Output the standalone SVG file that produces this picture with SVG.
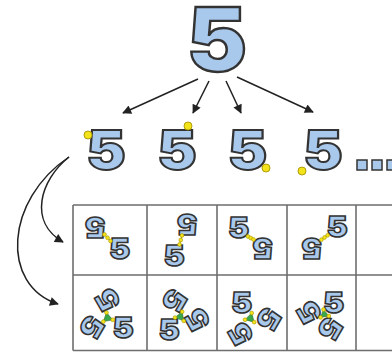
<svg xmlns="http://www.w3.org/2000/svg" xmlns:xlink="http://www.w3.org/1999/xlink" width="392" height="354" viewBox="0 0 392 354">
<style>
.g5{font-family:Inter,"DejaVu Sans",sans-serif;font-weight:900;fill:#a8c8ec;stroke:#333;text-anchor:middle}
.big{font-size:88px;stroke-width:2.4}
.mid{font-size:53px;stroke-width:2}
.sm{font-size:29px;stroke-width:1.5}
.yd{fill:#f2e31a;stroke:#a89400;stroke-width:0.6}
.ydb{fill:#f2e31a;stroke:#a89400;stroke-width:0.9}
.lk{stroke:#6a6a2a;stroke-width:0.8}
.tri{fill:#3aa84a;stroke:#2a6a2a;stroke-width:0.6}
.grid{fill:none;stroke:#6e6e6e;stroke-width:1.6}
.arr{fill:none;stroke:#222;stroke-width:1.5;marker-end:url(#ah)}
.sq{fill:#a8c8ec;stroke:#333;stroke-width:1.5}
</style>
<defs>
<marker id="ah" viewBox="0 0 10 10" refX="9" refY="5" markerWidth="7" markerHeight="6" markerUnits="strokeWidth" orient="auto">
<path d="M0,0 L10,5 L0,10 z" fill="#222"/>
</marker>
<text id="s5" class="g5 sm" x="0" y="10.5">5</text>
</defs>
<rect width="392" height="354" fill="#fff"/>

<g id="top5"><text class="g5 big" transform="translate(217,70.5) scale(1.03,1)">5</text></g>

<g id="v1"><text class="g5 mid" transform="translate(106,168.5) scale(1.12,1)">5</text><circle class="ydb" cx="88" cy="135" r="4"/></g>
<g id="v2"><text class="g5 mid" transform="translate(177,168.5) scale(1.12,1)">5</text><circle class="ydb" cx="188" cy="126" r="4"/></g>
<g id="v3"><text class="g5 mid" transform="translate(247.5,168.5) scale(1.12,1)">5</text><circle class="ydb" cx="266" cy="168" r="4"/></g>
<g id="v4"><text class="g5 mid" transform="translate(323,168.5) scale(1.12,1)">5</text><circle class="ydb" cx="302" cy="171" r="4"/></g>
<g id="more"><rect class="sq" x="357" y="160" width="10" height="10"/><rect class="sq" x="372" y="160" width="10" height="10"/><rect class="sq" x="387" y="160" width="10" height="10"/></g>

<g id="table">
<path class="grid" d="M73,205 H392 M73,275 H392 M73,350.5 H392 M73,205 V350.5 M147,205 V350.5 M217,205 V350.5 M287,205 V350.5 M356,205 V350.5"/>
</g>

<g id="d1">
<g id="d1m"><use href="#s5" transform="translate(119.5,248) scale(1.1,1)"/></g>
<use href="#d1m" transform="rotate(180 107.5 237.75)"/>
<line class="lk" x1="110.5" y1="241" x2="104.5" y2="234.5"/>
<circle class="yd" cx="110.5" cy="241" r="1.9"/><circle class="yd" cx="107.5" cy="237.75" r="1.9"/><circle class="yd" cx="104.5" cy="234.5" r="1.9"/>
</g>
<g id="d2">
<g id="d2m"><use href="#s5" transform="translate(174,255.5) scale(1.1,1)"/></g>
<use href="#d2m" transform="rotate(180 180.75 240)"/>
<line class="lk" x1="179.5" y1="244.5" x2="182" y2="235.5"/>
<circle class="yd" cx="179.5" cy="244.5" r="1.9"/><circle class="yd" cx="180.75" cy="240" r="1.9"/><circle class="yd" cx="182" cy="235.5" r="1.9"/>
</g>
<g id="d3">
<g id="d3m"><use href="#s5" transform="translate(238.5,227.5) scale(1.1,1)"/></g>
<use href="#d3m" transform="rotate(180 250.75 238)"/>
<line class="lk" x1="248" y1="236.5" x2="253.5" y2="239.5"/>
<circle class="yd" cx="248" cy="236.5" r="1.9"/><circle class="yd" cx="250.75" cy="238" r="1.9"/><circle class="yd" cx="253.5" cy="239.5" r="1.9"/>
</g>
<g id="d4">
<g id="d4m"><use href="#s5" transform="translate(337,226.5) scale(1.1,1)"/></g>
<use href="#d4m" transform="rotate(180 324.5 237.5)"/>
<line class="lk" x1="327.6" y1="235.3" x2="321.4" y2="239.7"/>
<circle class="yd" cx="327.6" cy="235.3" r="1.9"/><circle class="yd" cx="324.5" cy="237.5" r="1.9"/><circle class="yd" cx="321.4" cy="239.7" r="1.9"/>
</g>

<g id="t1">
<g id="t1m"><use href="#s5" transform="translate(123,327) scale(1.1,1)"/></g>
<use href="#t1m" transform="rotate(120 107.5 318)"/>
<use href="#t1m" transform="rotate(240 107.5 318)"/>
<polygon class="tri" points="112.7,319.8 103.34,321.6 106.46,312.6"/>
<circle class="yd" cx="112.7" cy="319.8" r="1.9"/><circle class="yd" cx="103.34" cy="321.6" r="1.9"/><circle class="yd" cx="106.46" cy="312.6" r="1.9"/>
</g>
<g id="t2">
<g id="t2m"><use href="#s5" transform="translate(169,329.8) scale(1.1,1)"/></g>
<use href="#t2m" transform="rotate(120 180.3 316.7)"/>
<use href="#t2m" transform="rotate(240 180.3 316.7)"/>
<polygon class="tri" points="175,317.6 182.17,311.66 183.73,320.84"/>
<circle class="yd" cx="175" cy="317.6" r="1.9"/><circle class="yd" cx="182.17" cy="311.66" r="1.9"/><circle class="yd" cx="183.73" cy="320.84" r="1.9"/>
</g>
<g id="t3">
<g id="t3m"><use href="#s5" transform="translate(241.5,302) scale(1.1,1)"/></g>
<use href="#t3m" transform="rotate(120 250.3 318.3)"/>
<use href="#t3m" transform="rotate(240 250.3 318.3)"/>
<polygon class="tri" points="251.7,313 254.19,322.16 245.01,319.74"/>
<circle class="yd" cx="251.7" cy="313" r="1.9"/><circle class="yd" cx="254.19" cy="322.16" r="1.9"/><circle class="yd" cx="245.01" cy="319.74" r="1.9"/>
</g>
<g id="t4">
<g id="t4m"><use href="#s5" transform="translate(333.5,302) scale(1.1,1)"/></g>
<use href="#t4m" transform="rotate(120 324.3 314.3)"/>
<use href="#t4m" transform="rotate(240 324.3 314.3)"/>
<polygon class="tri" points="323.5,309.5 328.86,316.01 320.54,317.39"/>
<circle class="yd" cx="323.5" cy="309.5" r="1.9"/><circle class="yd" cx="328.86" cy="316.01" r="1.9"/><circle class="yd" cx="320.54" cy="317.39" r="1.9"/>
</g>

<g id="connectors">
<line class="arr" x1="198" y1="79" x2="123" y2="113"/>
<line class="arr" x1="209" y1="81" x2="193" y2="113"/>
<line class="arr" x1="226" y1="81" x2="241" y2="113"/>
<line class="arr" x1="237" y1="77" x2="313" y2="112"/>
<path class="arr" d="M69,157 C40,180 28,222 63,242"/>
<path class="arr" d="M69,157 C5,200 0,285 58,304"/>
</g>
</svg>
